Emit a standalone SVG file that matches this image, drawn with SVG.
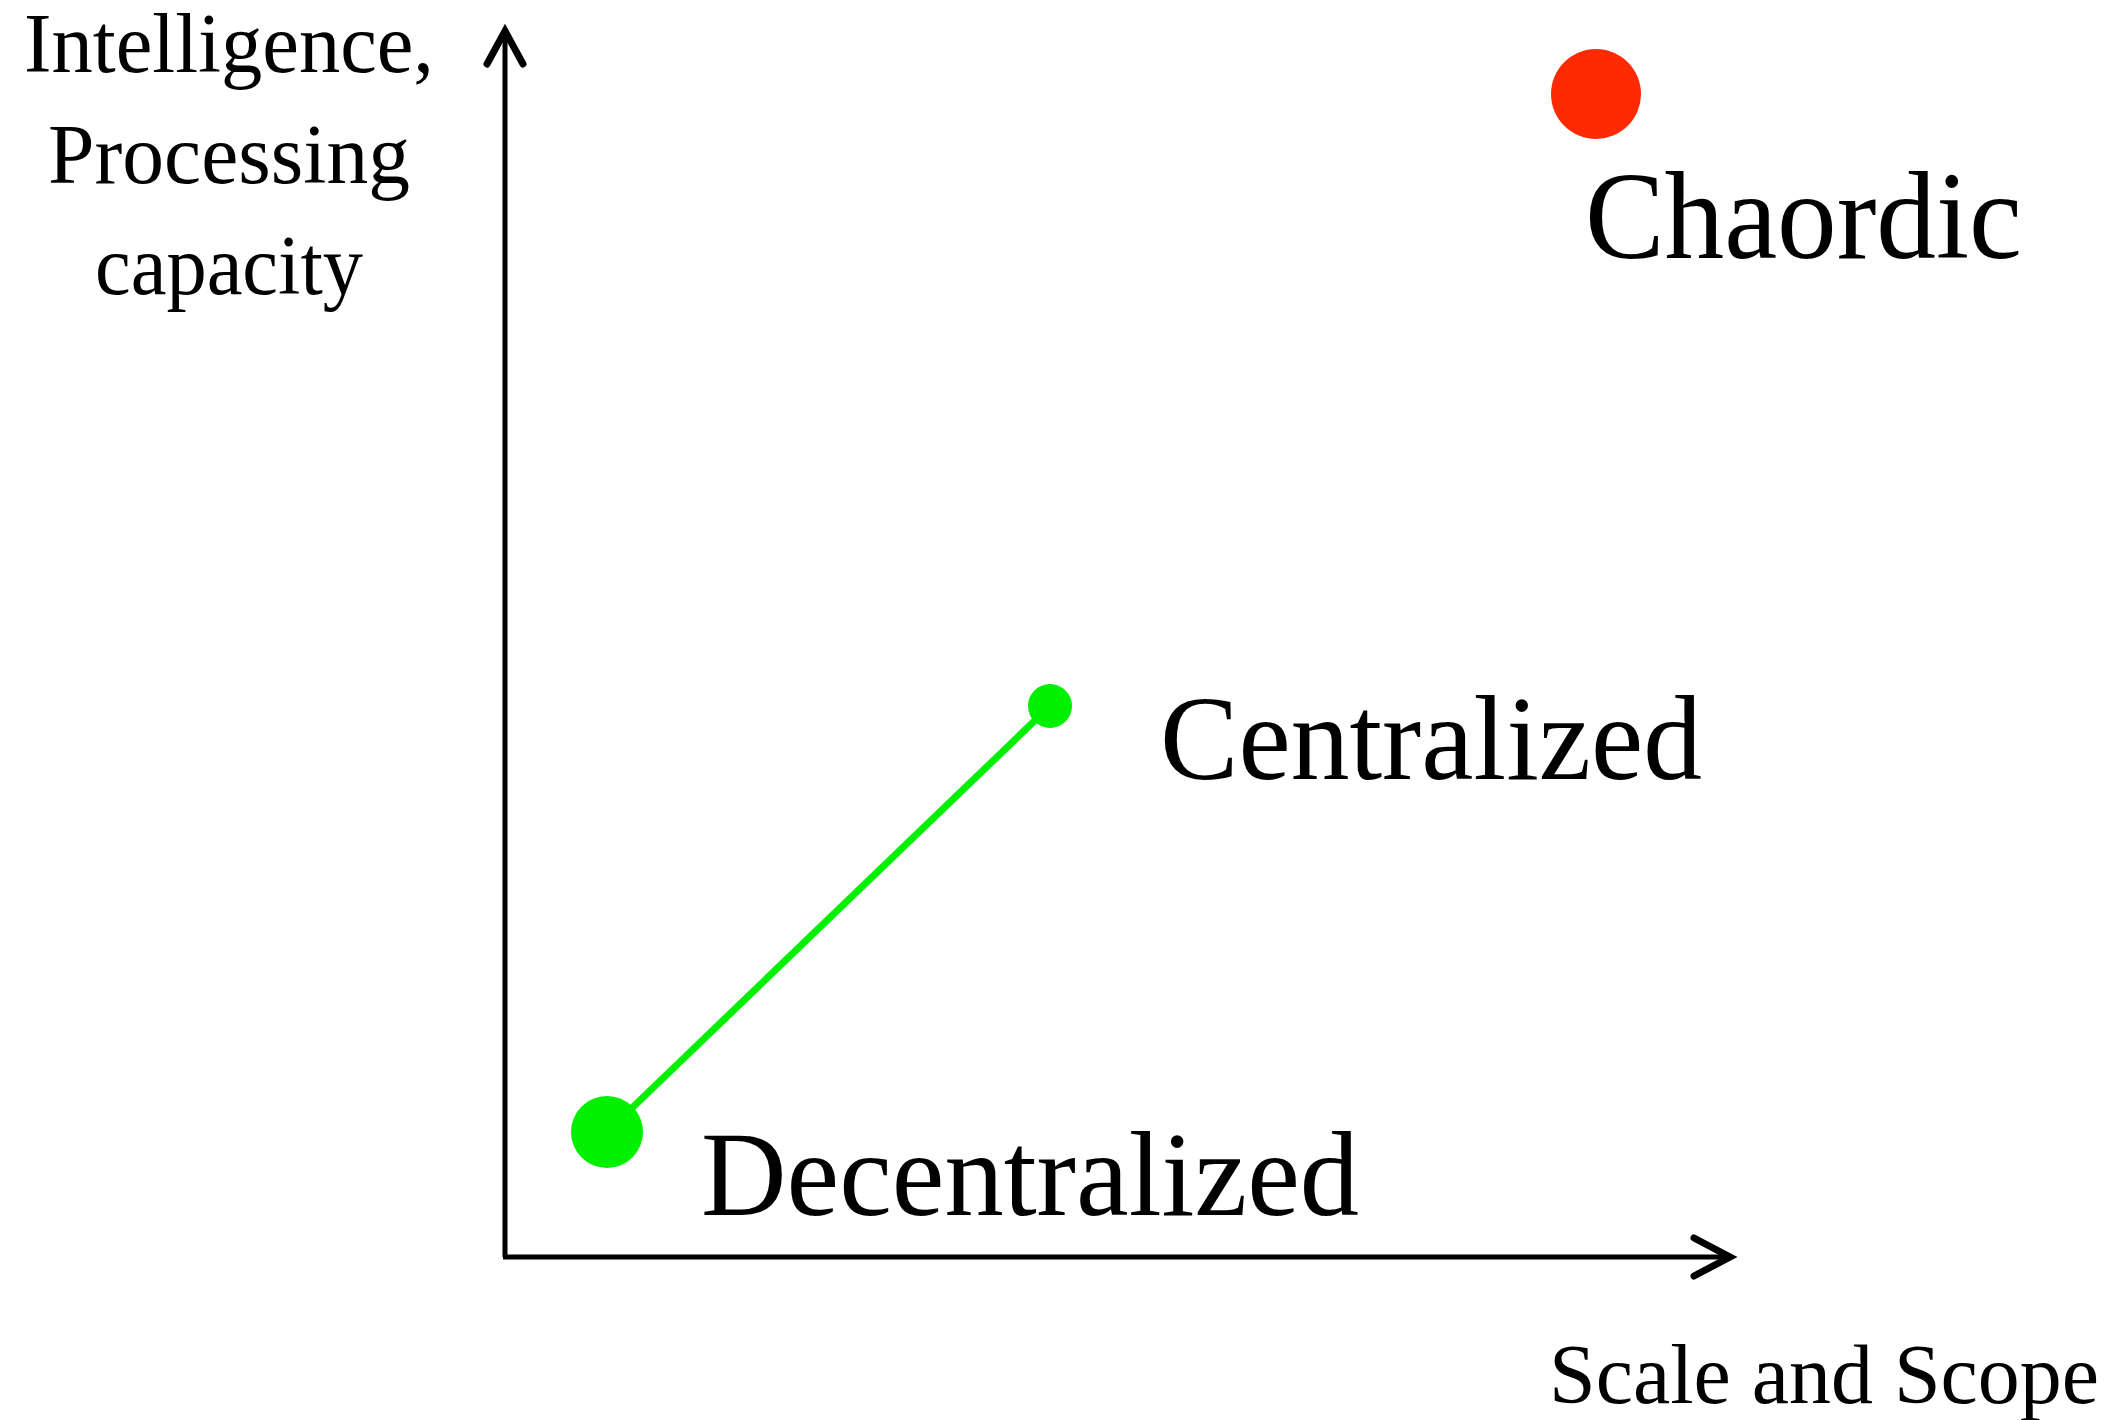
<svg xmlns="http://www.w3.org/2000/svg" width="2114" height="1420" viewBox="0 0 2114 1420">
<style>
.t{font-family:"Liberation Serif","DejaVu Serif",serif;fill:#000}
.ax{stroke:#000;stroke-width:5;fill:none}
.hd{stroke:#000;stroke-width:7;fill:none;stroke-linecap:round;stroke-linejoin:miter}
.g{fill:#00F000}
</style>
<rect width="2114" height="1420" fill="#fff"/>
<g id="connectors">
<line class="ax" x1="505" y1="1257" x2="505" y2="30"/>
<polyline class="hd" points="487,64 505,31 523,64"/>
<line class="ax" x1="503" y1="1257" x2="1730" y2="1257"/>
<polyline class="hd" points="1694,1238 1730,1257 1694,1276"/>
<line x1="607" y1="1132" x2="1050" y2="706" stroke="#00F000" stroke-width="7"/>
</g>
<g id="yaxis-label">
<text class="t" font-size="84" x="229" y="72" text-anchor="middle" textLength="410" lengthAdjust="spacingAndGlyphs">Intelligence,</text>
<text class="t" font-size="84" x="229" y="183" text-anchor="middle" textLength="362" lengthAdjust="spacingAndGlyphs">Processing</text>
<text class="t" font-size="84" x="229" y="294" text-anchor="middle" textLength="268" lengthAdjust="spacingAndGlyphs">capacity</text>
</g>
<g id="xaxis-label">
<text class="t" font-size="84" x="1549" y="1403" textLength="550" lengthAdjust="spacingAndGlyphs">Scale and Scope</text>
</g>
<g id="chaordic">
<circle cx="1596" cy="94" r="45" fill="#FF2A00"/>
<text class="t" font-size="124" x="1585" y="258" textLength="437" lengthAdjust="spacingAndGlyphs">Chaordic</text>
</g>
<g id="centralized">
<circle class="g" cx="1050" cy="706" r="22"/>
<text class="t" font-size="120" x="1160" y="779" textLength="542" lengthAdjust="spacingAndGlyphs">Centralized</text>
</g>
<g id="decentralized">
<circle class="g" cx="607" cy="1132" r="36"/>
<text class="t" font-size="120" x="701" y="1215" textLength="658" lengthAdjust="spacingAndGlyphs">Decentralized</text>
</g>
</svg>
